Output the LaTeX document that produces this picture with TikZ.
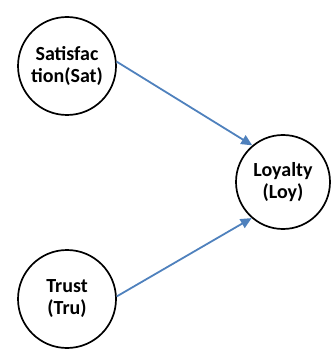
\documentclass[tikz,border=0pt]{standalone}
\usepackage{fontspec}
\setmainfont{Carlito}
\usetikzlibrary{arrows.meta}
\definecolor{linkblue}{RGB}{79,129,189}
\begin{document}
\begin{tikzpicture}[x=1pt,y=-1pt,
  construct/.style={circle,draw=black,line width=1.7pt,minimum size=98pt,inner sep=0pt,
    align=center,font=\fontsize{20}{22}\selectfont\bfseries},
  link/.style={draw=linkblue,line width=1.8pt,-{Triangle[length=11pt,width=10pt]}}]
\useasboundingbox (0,0) rectangle (330,352);
\node[construct] (sat) at (67,66) {Satisfac\\tion(Sat)};
\node[construct] (tru) at (67,299) {Trust\\(Tru)};
\node[construct,minimum size=94pt] (loy) at (283,182) {Loyalty\\(Loy)};
\draw[link] (sat.5) -- (loy.130);
\draw[link] (tru.3) -- (loy.229);
\end{tikzpicture}
\end{document}
